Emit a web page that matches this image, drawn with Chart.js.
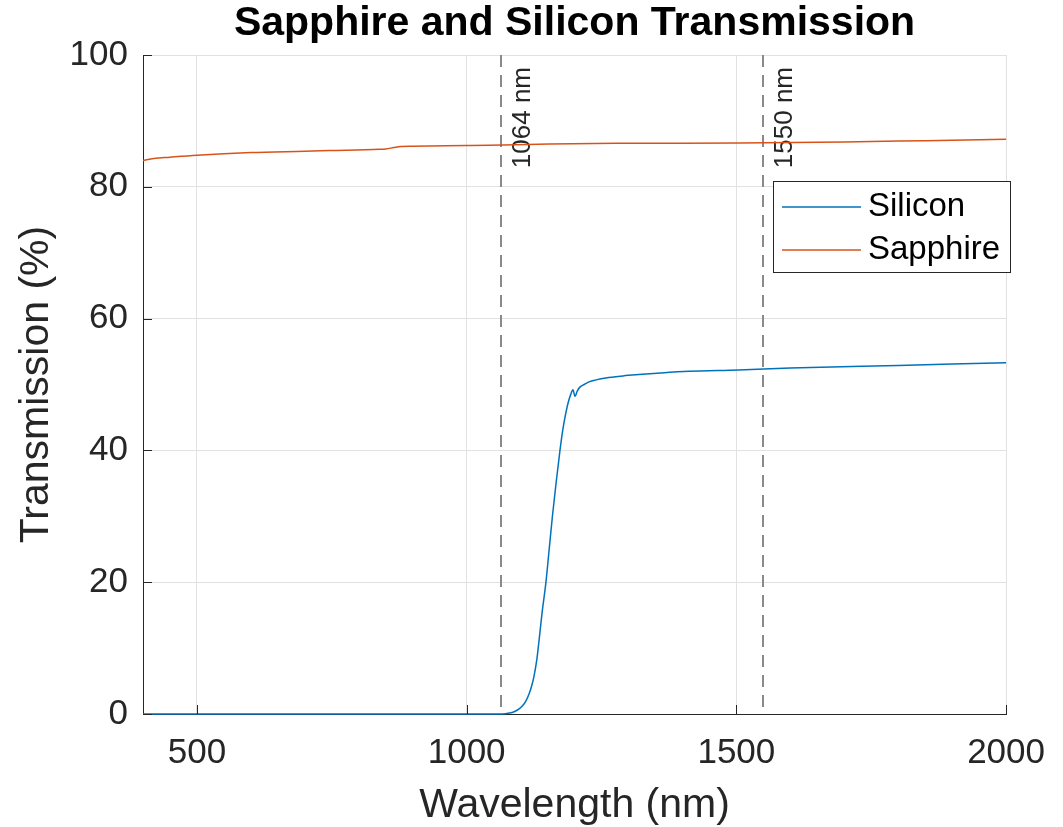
<!DOCTYPE html>
<html><head><meta charset="utf-8">
<script src="https://cdn.jsdelivr.net/npm/chart.js@4.4.1/dist/chart.umd.min.js"></script>
<style>html,body{margin:0;padding:0;background:#fff}#wrap{width:1063px;height:827px}</style>
</head><body><div id="wrap"><canvas id="c" width="1063" height="827"></canvas></div>
<script>
const siliconWl = [400, 600, 800, 1000, 1060, 1072, 1080, 1088, 1096, 1104, 1110, 1116, 1121, 1125, 1130, 1134, 1140, 1147, 1153, 1159, 1166, 1173, 1178, 1183, 1188, 1193, 1197, 1201, 1205, 1210, 1218, 1227, 1240, 1258, 1290, 1319, 1360, 1412, 1504, 1600, 1800, 2000];
const siliconT  = [0, 0, 0, 0, 0, 0.05, 0.15, 0.35, 0.7, 1.3, 2.0, 3.1, 4.4, 5.8, 8.2, 11.0, 15.5, 20.0, 25.0, 30.0, 35.2, 40.0, 43.0, 45.3, 47.2, 48.5, 49.2, 48.2, 49.0, 49.6, 50.0, 50.4, 50.7, 51.0, 51.3, 51.5, 51.75, 52.0, 52.2, 52.5, 52.9, 53.3];
const sapphireWl = [400, 420, 450, 500, 600, 700, 746, 838, 850, 865, 878, 900, 1000, 1042, 1153, 1300, 1504, 1700, 1850, 2000];
const sapphireT  = [84.0, 84.3, 84.5, 84.8, 85.2, 85.4, 85.5, 85.7, 85.75, 85.95, 86.1, 86.15, 86.25, 86.3, 86.5, 86.6, 86.65, 86.8, 87.0, 87.2];
const seriesNames = ['Silicon', 'Sapphire'];
const seriesColors = ['#0072BD', '#D95319'];
const xTicks = [500, 1000, 1500, 2000];
const yTicks = [0, 20, 40, 60, 80, 100];
const markerWl = [1064, 1550];
const markerLabels = ['1064 nm', '1550 nm'];
const chartTitle = 'Sapphire and Silicon Transmission';

const FONT = '"Liberation Sans", Arial, Helvetica, sans-serif';
const toPts = (xs, ys) => xs.map((v, i) => ({x: v, y: ys[i]}));

const decor = {
  id: 'decor',
  beforeDatasetsDraw(chart) {
    const {ctx, chartArea: a, scales: {x}} = chart;
    ctx.save();
    ctx.strokeStyle = '#8a8a8a'; ctx.lineWidth = 2; ctx.setLineDash([12, 8]);
    markerWl.forEach(w => {
      const px = Math.round(x.getPixelForValue(w));
      ctx.beginPath(); ctx.moveTo(px, a.top); ctx.lineTo(px, a.bottom); ctx.stroke();
    });
    ctx.setLineDash([]);
    ctx.fillStyle = '#262626'; ctx.font = '26px ' + FONT;
    markerWl.forEach((w, i) => {
      const px = x.getPixelForValue(w);
      ctx.save();
      ctx.translate(px + 29, a.top + 12);
      ctx.rotate(-Math.PI / 2);
      ctx.textAlign = 'right'; ctx.textBaseline = 'alphabetic';
      ctx.fillText(markerLabels[i], 0, 0);
      ctx.restore();
    });
    ctx.restore();
  },
  afterDatasetsDraw(chart) {
    const {ctx, chartArea: a, scales: {x, y}} = chart;
    ctx.save();
    ctx.strokeStyle = '#262626'; ctx.lineWidth = 1;
    xTicks.forEach(v => {
      const px = Math.round(x.getPixelForValue(v)) + 0.5;
      ctx.beginPath(); ctx.moveTo(px, a.bottom); ctx.lineTo(px, a.bottom - 9); ctx.stroke();
    });
    yTicks.forEach(v => {
      const py = Math.round(y.getPixelForValue(v)) + 0.5;
      ctx.beginPath(); ctx.moveTo(a.left, py); ctx.lineTo(a.left + 9, py); ctx.stroke();
    });
    // title
    ctx.fillStyle = '#000'; ctx.font = 'bold 41px ' + FONT;
    ctx.textAlign = 'center'; ctx.textBaseline = 'middle';
    ctx.fillText(chartTitle, (a.left + a.right) / 2, 24);
    // legend
    const lx = 773.5, ly = 181.5, lw = 237, lh = 91;
    ctx.fillStyle = '#fff'; ctx.fillRect(lx, ly, lw, lh);
    ctx.strokeStyle = '#262626'; ctx.strokeRect(lx, ly, lw, lh);
    const rows = [207, 250];
    chart.data.datasets.forEach((ds, i) => {
      ctx.strokeStyle = ds.borderColor; ctx.lineWidth = 1.5;
      ctx.beginPath(); ctx.moveTo(782, rows[i]); ctx.lineTo(861, rows[i]); ctx.stroke();
      ctx.fillStyle = '#000'; ctx.font = '33px ' + FONT;
      ctx.textAlign = 'left'; ctx.textBaseline = 'middle';
      ctx.fillText(ds.label, 868, rows[i]);
    });
    ctx.restore();
  }
};

new Chart(document.getElementById('c'), {
  type: 'line',
  data: {
    datasets: [
      {label: seriesNames[0], data: toPts(siliconWl, siliconT), borderColor: seriesColors[0], borderWidth: 1.5, pointRadius: 0, cubicInterpolationMode: 'monotone', clip: 4},
      {label: seriesNames[1], data: toPts(sapphireWl, sapphireT), borderColor: seriesColors[1], borderWidth: 1.5, pointRadius: 0, cubicInterpolationMode: 'monotone', clip: 4}
    ]
  },
  options: {
    responsive: false, animation: false,
    layout: {padding: {left: 0, right: 55, top: 55, bottom: 0}},
    plugins: {
      legend: {display: false}, tooltip: {enabled: false}, title: {display: false}
    },
    scales: {
      x: {
        type: 'linear', min: 400, max: 2000,
        afterBuildTicks: s => { s.ticks = xTicks.map(v => ({value: v})); },
        afterFit: s => { s.height = 113; },
        grid: {color: '#e1e1e1', drawTicks: false, lineWidth: 1},
        border: {display: true, color: '#262626', width: 1},
        ticks: {font: {family: FONT, size: 35}, color: '#262626', padding: 18, maxRotation: 0, autoSkip: false, callback: v => String(v)},
        title: {display: true, text: 'Wavelength (nm)', color: '#262626', font: {family: FONT, size: 41, lineHeight: 1}, padding: {top: 0, bottom: 1}}
      },
      y: {
        type: 'linear', min: 0, max: 100,
        afterBuildTicks: s => { s.ticks = yTicks.map(v => ({value: v})); },
        afterFit: s => { s.width = 143; },
        grid: {color: '#e1e1e1', drawTicks: false, lineWidth: 1},
        border: {display: true, color: '#262626', width: 1},
        ticks: {font: {family: FONT, size: 35}, color: '#262626', padding: 15, callback: v => String(v)},
        title: {display: true, text: 'Transmission (%)', color: '#262626', font: {family: FONT, size: 41, lineHeight: 1.2}, padding: {top: 12, bottom: 0}}
      }
    }
  },
  plugins: [decor]
});
</script></body></html>
